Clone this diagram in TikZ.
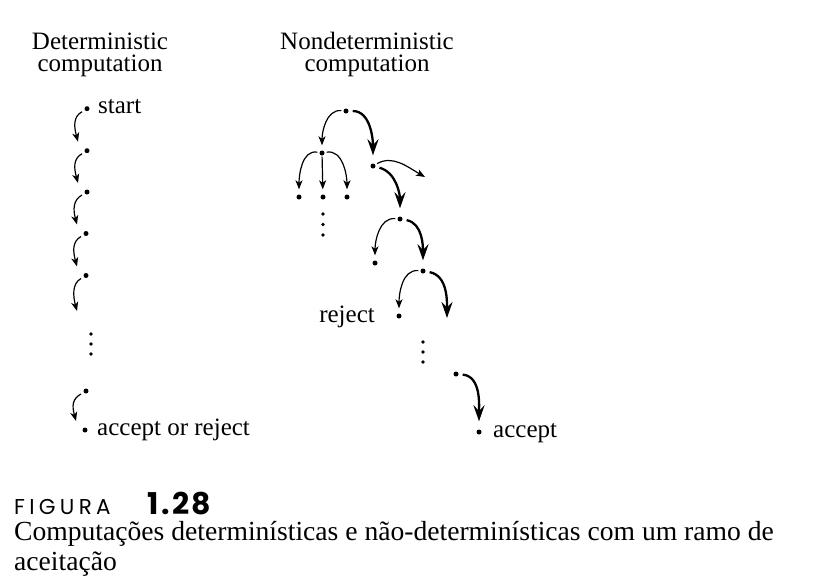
\documentclass[tikz,border=0pt]{standalone}
\usepackage{fontspec}
\setmainfont{Liberation Serif}
\newfontfamily\figfont{Poppins}[LetterSpace=20]
\newfontfamily\fignum{Poppins}[LetterSpace=8]
\usetikzlibrary{arrows.meta,calc}
\tikzset{
  tdot/.style={circle,fill,inner sep=0pt,minimum size=5pt},
  edot/.style={circle,fill,inner sep=0pt,minimum size=3.6pt},
  thinarr/.style={line width=1.2pt,-{Stealth[length=9pt,width=7pt,inset=2.5pt]}},
  thickarr/.style={line width=2.3pt,-{Stealth[length=16pt,width=11pt,inset=5.5pt]}},
  thinnode/.style={thinarr,shorten <=2pt,shorten >=5pt},
  thicknode/.style={thickarr,shorten <=4pt,shorten >=8pt},
  lbl/.style={font=\fontsize{25}{22}\selectfont,inner sep=0pt},
  captext/.style={font=\fontsize{27.6}{30}\selectfont,inner sep=0pt,align=left,anchor=base west},
}
\newcommand\detstep[2]{\draw[thinarr] ($(#1)+(-5,3)$) .. controls ($(#1)+(-14,8)$) and ($(#2)+(-13,-24)$) .. ($(#2)+(-9,-9)$);}
\begin{document}
\begin{tikzpicture}[x=1pt,y=-1pt]
\useasboundingbox (0,0) rectangle (818,587);

% titles
\node[lbl,anchor=base,align=center] (t1) at (100,71) {Deterministic\\computation};
\node[lbl,anchor=base,align=center] (t2) at (367,71) {Nondeterministic\\computation};

% deterministic column
\node[tdot] (d1) at (87,108.7) {};
\node[tdot] (d2) at (87,150.7) {};
\node[tdot] (d3) at (87,192) {};
\node[tdot] (d4) at (86,233.5) {};
\node[tdot] (d5) at (86,275.5) {};
\coordinate (d6) at (86,320);
\node[edot] (v1) at (91,334) {};
\node[edot] (v2) at (91,344) {};
\node[edot] (v3) at (91,354) {};
\node[tdot] (d7) at (86,391) {};
\node[tdot] (d8) at (85,430) {};
\detstep{d1}{d2}
\detstep{d2}{d3}
\detstep{d3}{d4}
\detstep{d4}{d5}
\detstep{d5}{d6}
\detstep{d7}{d8}
\node[lbl,anchor=base west] (ls) at ($(d1)+(11,5)$) {start};
\node[lbl,anchor=base west] (la) at ($(d8)+(12,5)$) {accept or reject};

% nondeterministic tree
\node[tdot] (R) at (346,111) {};
\node[tdot] (A) at (322,153) {};
\node[tdot] (B) at (373,166) {};
\node[tdot] (L1) at (299,197) {};
\node[tdot] (L2) at (323,197) {};
\node[tdot] (L3) at (347,197) {};
\node[edot] (w1) at (323,214) {};
\node[edot] (w2) at (323,224.5) {};
\node[edot] (w3) at (323,235) {};
\coordinate (F1) at (425,177);
\node[tdot] (M) at (400,219) {};
\node[tdot] (C) at (375,263) {};
\node[tdot] (D) at (423,271) {};
\node[tdot] (E) at (399,316) {};
\coordinate (F2) at (447,326);
\node[edot] (u1) at (423,342) {};
\node[edot] (u2) at (423,352) {};
\node[edot] (u3) at (423,362) {};
\node[tdot] (G) at (456,374) {};
\node[tdot] (H) at (479,432) {};

\draw[thinnode] (R) to[out=175,in=90] (A);
\draw[thicknode] (R) to[out=0,in=90] (B);
\draw[thinnode] (A) to[out=170,in=90] (L1);
\draw[thinnode,shorten <=1pt] (A) -- (L2);
\draw[thinnode] (A) to[out=10,in=90] (L3);
\draw[thinnode,shorten >=0pt] (B) to[out=30,in=150] (F1);
\draw[thicknode] (B) to[out=-15,in=90] (M);
\draw[thinnode] (M) to[out=175,in=90] (C);
\draw[thicknode] (M) to[out=-10,in=90] (D);
\draw[thinnode] (D) to[out=175,in=90] (E);
\draw[thicknode] (D) to[out=-10,in=90] (F2);
\draw[thicknode] (G) to[out=-5,in=90] (H);

\node[lbl,anchor=base east] (lr) at ($(E)+(-24,6)$) {reject};
\node[lbl,anchor=base west] (lacc) at ($(H)+(14,5)$) {accept};

% caption
\node[captext] (capt) at (14,570) {{\figfont\fontsize{21.5}{22}\selectfont FIGURA}\hspace{37pt}{\fignum\bfseries\fontsize{30}{30}\selectfont 1.28}\\[-4pt]
Computações determinísticas e não-determinísticas com um ramo de\\
aceitação};
\end{tikzpicture}
\end{document}
